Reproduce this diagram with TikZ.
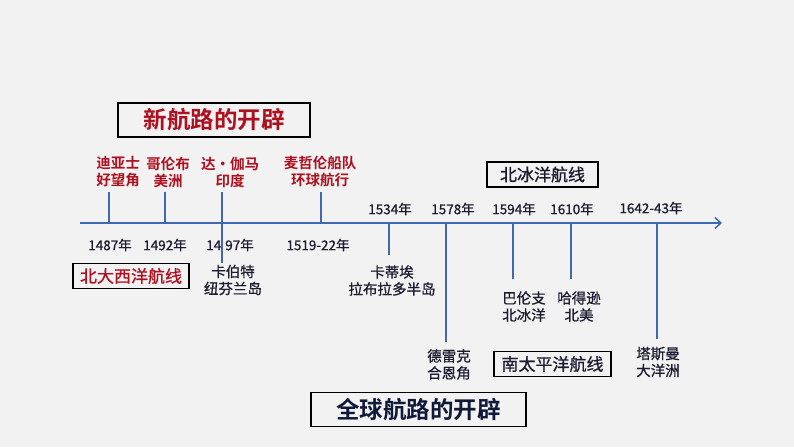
\documentclass[tikz,border=0pt]{standalone}
\usepackage{fontspec}
\newfontfamily\cjk{Noto Sans CJK SC}
\newfontfamily\cjkm[FakeBold=0.8]{Noto Sans CJK SC}
\newfontfamily\cjkb{Noto Sans CJK SC Bold}
\usetikzlibrary{arrows.meta}
\definecolor{bgc}{HTML}{F2F2F2}
\definecolor{linec}{HTML}{3E69B0}
\definecolor{redc}{HTML}{AE1020}
\definecolor{inkc}{HTML}{1C1C30}
\definecolor{navyc}{HTML}{0F1A3A}
\tikzset{
  lab/.style={inner sep=0pt, align=center, font=\cjkm\fontsize{14.5}{17}\selectfont, text=inkc},
  redlab/.style={lab, font=\cjkb\fontsize{14.5}{17}\selectfont, text=redc},
  year/.style={inner sep=0pt, font=\cjkm\fontsize{13.5}{16}\selectfont, text=inkc},
  routebox/.style={draw=black, line width=1.3pt, inner sep=0pt, minimum height=25pt, font=\cjkm\fontsize{17}{20}\selectfont},
  titlebox/.style={draw=black, line width=1.3pt, inner sep=0pt, minimum height=34pt, font=\cjkb\fontsize{23.5}{26}\selectfont},
  tick/.style={draw=linec, line width=1.5pt},
  axis/.style={draw=linec, line width=1.8pt, -{Straight Barb[length=6pt,width=11pt,line width=1.5pt]}}
}
\begin{document}
\begin{tikzpicture}[x=1pt,y=-1pt]
\useasboundingbox (0,0) rectangle (794,447);
\fill[bgc] (0,0) rectangle (794,447);

% axis
\coordinate (a0) at (80,223);
\coordinate (a1) at (722,223);
\draw[axis] (a0) -- (a1);

% titles
\node[titlebox, text=redc, minimum width=192pt] (t1) at (214,120) {新航路的开辟};
\node[titlebox, text=navyc, minimum width=215pt] (t2) at (418.5,409.5) {全球航路的开辟};

% route boxes
\node[routebox, text=redc, minimum width=116pt] (b1) at (131,276) {北大西洋航线};
\node[routebox, text=inkc, minimum width=111pt] (b2) at (542.5,174.5) {北冰洋航线};
\node[routebox, text=inkc, minimum width=117pt] (b3) at (552.5,364) {南太平洋航线};

% upper red labels
\node[redlab] (l1) at (118,172) {迪亚士\\好望角};
\node[redlab] (l2) at (168,172) {哥伦布\\美洲};
\node[redlab] (l3) at (230,172) {达·伽马\\印度};
\node[redlab] (l4) at (320,172) {麦哲伦船队\\环球航行};

% ticks above
\coordinate (p1) at (109,223); \coordinate (q1) at (109,192);
\coordinate (p2) at (165,223); \coordinate (q2) at (165,192);
\coordinate (p3a) at (222,192); \coordinate (p3b) at (222,263);
\coordinate (p4) at (321,223); \coordinate (q4) at (321,192);
\draw[tick] (p1) -- (q1);
\draw[tick] (p2) -- (q2);
\draw[tick] (p3a) -- (p3b);
\draw[tick] (p4) -- (q4);

% years below
\node[year] (y1) at (110,245) {1487年};
\node[year] (y2) at (165,245) {1492年};
\node[year] (y3) at (230,245) {14\hspace{4pt}97年};
\node[year] (y4) at (318,245) {1519-22年};

% years above
\node[year] (y5) at (390,209) {1534年};
\node[year] (y6) at (453,209) {1578年};
\node[year] (y7) at (514,209) {1594年};
\node[year] (y8) at (572,209) {1610年};
\node[year] (y9) at (651,208) {1642-43年};

% ticks below
\coordinate (p5) at (389,223); \coordinate (q5) at (389,255);
\coordinate (p6) at (446,223); \coordinate (q6) at (446,342);
\coordinate (p7) at (513,223); \coordinate (q7) at (513,279);
\coordinate (p8) at (571,223); \coordinate (q8) at (571,279);
\coordinate (p9) at (657,223); \coordinate (q9) at (657,339);
\draw[tick] (p5) -- (q5);
\draw[tick] (p6) -- (q6);
\draw[tick] (p7) -- (q7);
\draw[tick] (p8) -- (q8);
\draw[tick] (p9) -- (q9);

% lower labels
\node[lab] (c1) at (233,280) {卡伯特\\纽芬兰岛};
\node[lab] (c2) at (392,280.5) {卡蒂埃\\拉布拉多半岛};
\node[lab] (c3) at (449,364.5) {德雷克\\合恩角};
\node[lab] (c4) at (524,306.5) {巴伦支\\北冰洋};
\node[lab] (c5) at (579,306.5) {哈得逊\\北美};
\node[lab] (c6) at (658,362) {塔斯曼\\大洋洲};
\end{tikzpicture}
\end{document}
